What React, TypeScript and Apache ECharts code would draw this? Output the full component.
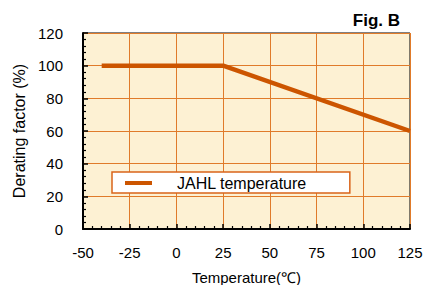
import React, { useEffect, useRef } from "react";
import * as echarts from "echarts";

const temperatures = [-40, 25, 125];
const deratingFactors = [100, 100, 60];
const seriesName = "JAHL temperature";
const xTicks = { min: -50, max: 125, interval: 25 };
const yTicks = { min: 0, max: 120, interval: 20 };

const FONT = "'Liberation Sans', Arial, sans-serif";

export default function App() {
  const ref = useRef<HTMLDivElement>(null);
  useEffect(() => {
    if (!ref.current) return;
    const chart = echarts.init(ref.current, null, { renderer: "svg" });
    const gridColor = "#e07b2a";
    chart.setOption({
      animation: false,
      backgroundColor: "#ffffff",
      title: {
        text: "Fig. B",
        right: 26,
        top: 7,
        textStyle: { fontFamily: FONT, fontSize: 17, fontWeight: "bold", color: "#000" },
      },
      grid: {
        left: 83,
        right: 21,
        top: 33,
        bottom: 56,
        containLabel: false,
        outerBoundsMode: "none",
        show: true,
        backgroundColor: "#fdf1d3",
        borderColor: "#000",
        borderWidth: 1,
      },
      legend: {
        left: 112,
        top: 172,
        data: [{ name: seriesName, icon: "rect" }],
        itemWidth: 27,
        itemHeight: 4,
        padding: [3, 43, 2, 13],
        backgroundColor: "#ffffff",
        borderColor: "#d9641a",
        borderWidth: 1.5,
        textStyle: {
          fontFamily: FONT,
          fontSize: 16,
          color: "#000",
          padding: [0, 0, 0, 20],
        },
      },
      xAxis: {
        type: "value",
        min: xTicks.min,
        max: xTicks.max,
        interval: xTicks.interval,
        name: "Temperature(℃)",
        nameLocation: "middle",
        nameGap: 41,
        nameTextStyle: { fontFamily: FONT, fontSize: 15, color: "#000" },
        axisLine: { show: true, onZero: false, lineStyle: { color: "#000", width: 2 } },
        axisTick: { show: true, inside: true, length: 5, lineStyle: { color: "#000", width: 1.5 } },
        minorTick: { show: true, splitNumber: 5, length: 3, lineStyle: { color: "#000", width: 1.2 } },
        axisLabel: { fontFamily: FONT, fontSize: 15, color: "#000", margin: 16 },
        splitLine: { show: true, lineStyle: { color: gridColor, width: 1 } },
      },
      yAxis: {
        type: "value",
        min: yTicks.min,
        max: yTicks.max,
        interval: yTicks.interval,
        name: "Derating factor (%)",
        nameLocation: "middle",
        nameGap: 51,
        nameTextStyle: { fontFamily: FONT, fontSize: 16, color: "#000" },
        axisLine: { show: true, onZero: false, lineStyle: { color: "#000", width: 2 } },
        axisTick: { show: true, inside: true, length: 5, lineStyle: { color: "#000", width: 1.5 } },
        minorTick: { show: true, splitNumber: 5, length: 3, lineStyle: { color: "#000", width: 1.2 } },
        axisLabel: { fontFamily: FONT, fontSize: 15, color: "#000", margin: 20 },
        splitLine: { show: true, lineStyle: { color: gridColor, width: 1 } },
      },
      series: [
        {
          name: seriesName,
          type: "line",
          data: temperatures.map((t, i) => [t, deratingFactors[i]]),
          showSymbol: false,
          symbol: "none",
          itemStyle: { color: "#cc5500" },
          lineStyle: { color: "#cc5500", width: 4.5 },
        },
      ],
    });
    return () => chart.dispose();
  }, []);
  return (
    <div
      ref={ref}
      style={{ position: "absolute", left: 0, top: 0, width: 431, height: 285 }}
    />
  );
}
